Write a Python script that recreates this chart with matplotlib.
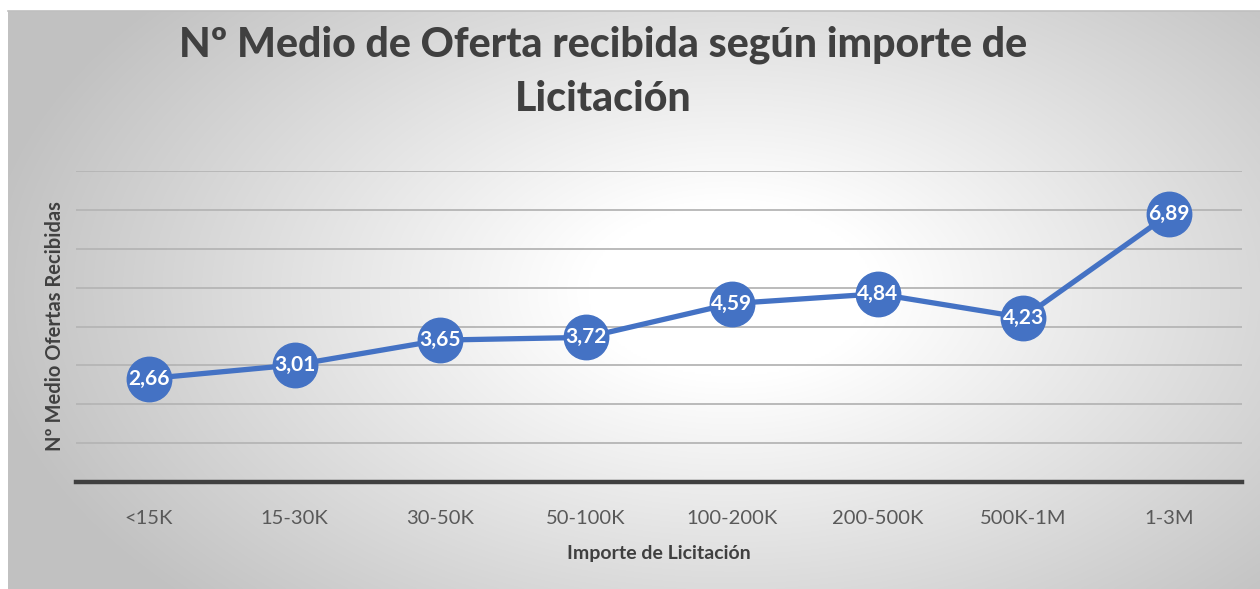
import numpy as np
import matplotlib
matplotlib.use('Agg')
import matplotlib.pyplot as plt

# Chart data
categories = ['<15K', '15-30K', '30-50K', '50-100K', '100-200K', '200-500K', '500K-1M', '1-3M']
offers = [2.66, 3.01, 3.65, 3.72, 4.59, 4.84, 4.23, 6.89]
value_labels = ['2,66', '3,01', '3,65', '3,72', '4,59', '4,84', '4,23', '6,89']

W, H = 1260, 589
fig = plt.figure(figsize=(W / 100, H / 100), dpi=100)
fig.patch.set_facecolor('white')

# radial grey gradient background panel
bg = fig.add_axes([8 / W, 0, 1 - 8 / W, 1 - 11 / H])
yy, xx = np.mgrid[11:H:2, 8:W:2]
d = np.sqrt(((xx - 730) / 720.0) ** 2 + ((yy - 290) / 430.0) ** 2)
shade = 255 - 62 * np.clip((d - 0.2) / 0.85, 0, 1)
img = np.dstack([shade, shade, shade]) / 255.0
bg.imshow(img, aspect='auto', interpolation='bilinear')
bg.axis('off')
bg.plot([0, 1], [1, 1], transform=bg.transAxes, color='#bfbfbf', lw=1.2, clip_on=False)

# plot area
ax = fig.add_axes([76 / W, (H - 482) / H, (1242 - 76) / W, (482 - 171) / H])
ax.patch.set_alpha(0)
x = np.arange(len(categories))
ax.set_xlim(-0.5, len(categories) - 0.5)
ax.set_ylim(0, 8)
ax.set_yticks(np.arange(1, 9))
ax.yaxis.grid(True, color='#b5b5b5', lw=1.3)
ax.tick_params(axis='y', length=0, labelleft=False)
ax.tick_params(axis='x', length=0, pad=20, labelsize=14.5, labelcolor='#595959')
ax.set_xticks(x)
ax.set_xticklabels(categories, fontfamily='Lato')
for s in ['top', 'right', 'left']:
    ax.spines[s].set_visible(False)
ax.spines['bottom'].set_color('#404040')
ax.spines['bottom'].set_linewidth(3.2)
ax.set_axisbelow(True)

ax.plot(x, offers, color='#4472C4', lw=3.8, marker='o', ms=32,
        markerfacecolor='#4472C4', markeredgecolor='#4472C4', clip_on=False, zorder=3)
for xi, yi, lab in zip(x, offers, value_labels):
    ax.text(xi, yi, lab, ha='center', va='center', color='white',
            fontsize=15, fontweight='bold', fontfamily='Lato', zorder=4)

ax.set_xlabel('Importe de Licitación', fontsize=14, fontweight='bold',
              color='#404040', fontfamily='Lato', labelpad=13)
ax.set_ylabel('Nº Medio Ofertas Recibidas', fontsize=14.5, fontweight='bold',
              color='#404040', fontfamily='Lato', labelpad=8)

fig.text(603 / W, 1 - 72 / H, 'Nº Medio de Oferta recibida según importe de\nLicitación',
         ha='center', va='center', fontsize=29.5, fontweight='black', color='#404040',
         fontfamily='Lato', linespacing=1.5)

fig.savefig('out.png', dpi=100, facecolor=fig.get_facecolor())
